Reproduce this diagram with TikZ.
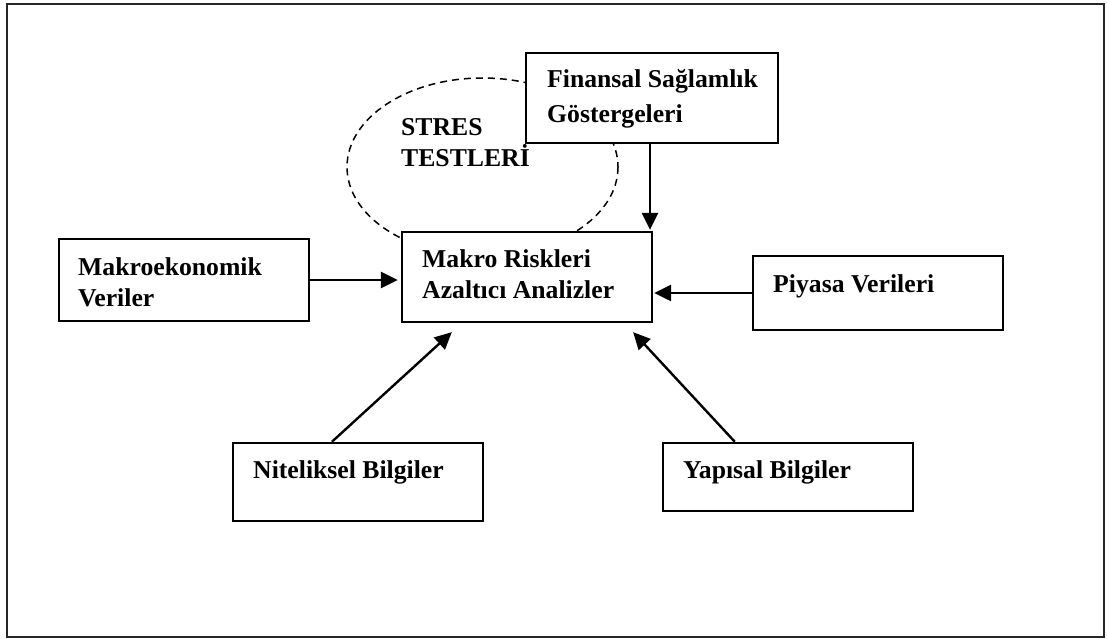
\documentclass[tikz,border=0pt]{standalone}
\usepackage{fontspec}
\setmainfont{Liberation Serif}
\usetikzlibrary{arrows.meta}
\begin{document}
\begin{tikzpicture}[x=1pt,y=-1pt,
  box/.style={draw, fill=white, line width=2.3pt, inner sep=0pt, rectangle},
  txt/.style={anchor=base west, inner sep=0pt, font=\fontsize{25.7}{31}\selectfont\bfseries},
  arr/.style={line width=2.4pt, -{Triangle[length=17pt,width=16pt]}},
  stress/.style={draw, dash pattern=on 7pt off 5pt, line width=1.5pt}]
\useasboundingbox (0,0) rectangle (1107,639);
% outer frame
\draw[line width=2.8pt, black!85] (7,4) rectangle (1104,637);

% stress-test ellipse, partly covered by the boxes
\draw[stress] (482.5,167) ellipse [x radius=135.5, y radius=89];

% boxes
\node[box, minimum width=250pt, minimum height=90pt] (mak) at (527,277) {};
\node[box, minimum width=252pt, minimum height=90pt] (fin) at (652,98) {};
\node[box, minimum width=250pt, minimum height=82pt] (mac) at (184,280) {};
\node[box, minimum width=250pt, minimum height=74pt] (piy) at (878,293) {};
\node[box, minimum width=250pt, minimum height=78pt] (nit) at (358,482) {};
\node[box, minimum width=250pt, minimum height=68pt] (yap) at (788,477) {};

% labels
\node[txt] (tmak1) at (422,267) {Makro Riskleri};
\node[txt] (tmak2) at (422,298) {Azaltıcı Analizler};
\node[txt] (tfin1) at (547,88) {Finansal Sağlamlık};
\node[txt] (tfin2) at (547,123) {Göstergeleri};
\node[txt] (tmac1) at (78,275) {Makroekonomik};
\node[txt] (tmac2) at (78,306) {Veriler};
\node[txt] (tpiy) at (773,292) {Piyasa Verileri};
\node[txt] (tnit) at (253,478) {Niteliksel Bilgiler};
\node[txt] (tyap) at (683,478) {Yapısal Bilgiler};
\node[txt] (tst1) at (401,136) {STRES};
\node[txt] (tst2) at (401,167) {TESTLERİ};

% connectors
\coordinate (vx) at (650,0);
\draw[arr, shorten >=1pt] (fin.south -| vx) -- (mak.north -| vx);
\draw[arr, shorten >=3pt] (mac.east) -- (mac.east -| mak.west);
\draw[arr, shorten >=1pt] (piy.west) -- (piy.west -| mak.east);
\draw[arr] ([xshift=100pt]nit.north west) -- ([xshift=51pt,yshift=-9pt]mak.south west);
\draw[arr] ([xshift=73pt]yap.north west) -- ([xshift=-20pt,yshift=-9pt]mak.south east);
\end{tikzpicture}
\end{document}
